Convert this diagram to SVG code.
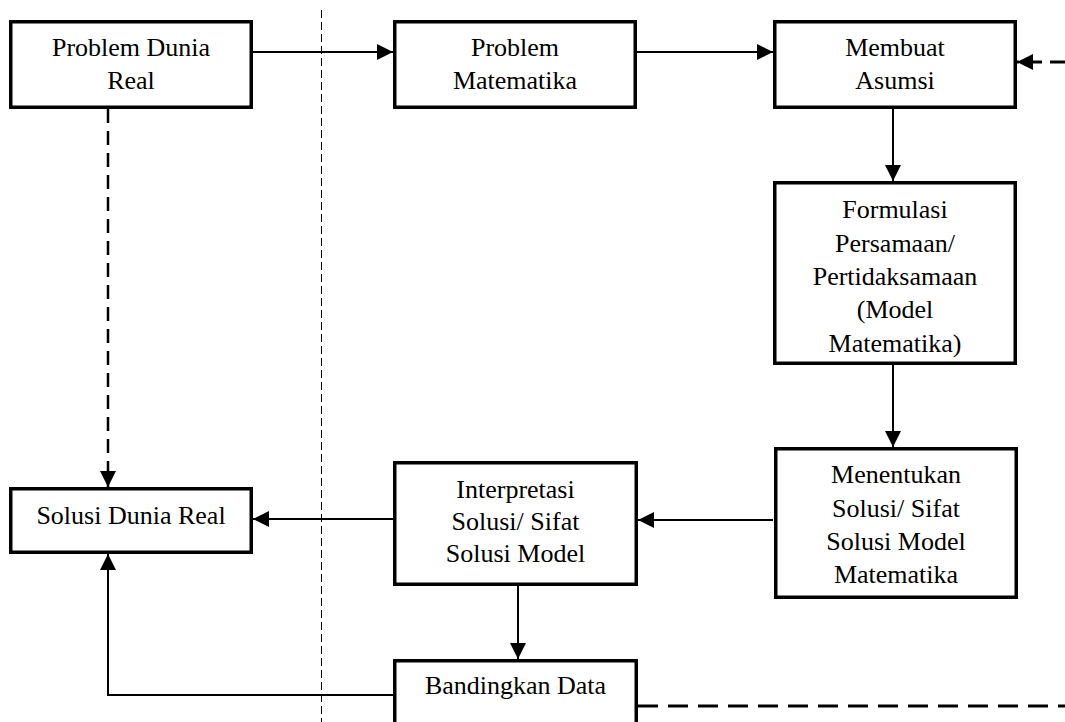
<svg xmlns="http://www.w3.org/2000/svg" width="1065" height="722" viewBox="0 0 1065 722">
<style>
.box{fill:#fff;stroke:#000;stroke-width:3.5}
.t{font-family:"Liberation Serif","Times New Roman",serif;font-size:26px;fill:#000;text-anchor:middle}
.ln{fill:none;stroke:#000;stroke-width:2}
.dsh{fill:none;stroke:#000;stroke-width:2.5;stroke-dasharray:14 8}
.dsh2{fill:none;stroke:#000;stroke-width:3;stroke-dasharray:20 10}
.sep{fill:none;stroke:#000;stroke-width:1;stroke-dasharray:8 4}
</style>
<defs>
<marker id="ah" markerUnits="userSpaceOnUse" markerWidth="16" markerHeight="16" refX="16" refY="8" orient="auto">
<path d="M0,0 L16,8 L0,16 Z" fill="#000"/>
</marker>
</defs>
<rect width="1065" height="722" fill="#fff"/>
<g id="connectors">
<line class="sep" x1="321.5" y1="10" x2="321.5" y2="722"/>
<line class="ln" x1="253" y1="52" x2="393" y2="52" marker-end="url(#ah)"/>
<line class="ln" x1="637" y1="52" x2="773" y2="52" marker-end="url(#ah)"/>
<line class="dsh" x1="1065" y1="62" x2="1017" y2="62" style="stroke-dasharray:15 8;stroke-width:3" marker-end="url(#ah)"/>
<line class="ln" x1="893" y1="92" x2="893" y2="181" marker-end="url(#ah)"/>
<line class="ln" x1="893" y1="365" x2="893" y2="447" marker-end="url(#ah)"/>
<line class="ln" x1="773" y1="520" x2="638" y2="520" marker-end="url(#ah)"/>
<line class="ln" x1="393" y1="519" x2="253" y2="519" marker-end="url(#ah)"/>
<line class="ln" x1="518" y1="586" x2="518" y2="659" marker-end="url(#ah)"/>
<polyline class="ln" points="393,695 108,695 108,554" marker-end="url(#ah)"/>
<line class="dsh" x1="108" y1="109" x2="108" y2="487" marker-end="url(#ah)"/>
<line class="dsh2" x1="638" y1="706" x2="1065" y2="706"/>
</g>
<g id="n1">
<rect class="box" x="10.75" y="21.75" width="240.5" height="85.5"/>
<text class="t" x="131" y="56">Problem Dunia</text>
<text class="t" x="131" y="89">Real</text>
</g>
<g id="n2">
<rect class="box" x="394.75" y="21.75" width="240.5" height="85.5"/>
<text class="t" x="515" y="56">Problem</text>
<text class="t" x="515" y="89">Matematika</text>
</g>
<g id="n3">
<rect class="box" x="774.75" y="21.75" width="240.5" height="85.5"/>
<text class="t" x="895" y="56">Membuat</text>
<text class="t" x="895" y="89">Asumsi</text>
</g>
<g id="n4">
<rect class="box" x="774.75" y="182.75" width="240.5" height="180.5"/>
<text class="t" x="895" y="218">Formulasi</text>
<text class="t" x="895" y="252">Persamaan/</text>
<text class="t" x="895" y="285">Pertidaksamaan</text>
<text class="t" x="895" y="318">(Model</text>
<text class="t" x="895" y="352">Matematika)</text>
</g>
<g id="n5">
<rect class="box" x="775.75" y="448.75" width="240.5" height="148.5"/>
<text class="t" x="896" y="483">Menentukan</text>
<text class="t" x="896" y="517">Solusi/ Sifat</text>
<text class="t" x="896" y="550">Solusi Model</text>
<text class="t" x="896" y="583">Matematika</text>
</g>
<g id="n6">
<rect class="box" x="394.75" y="462.75" width="241.5" height="121.5"/>
<text class="t" x="515.5" y="498">Interpretasi</text>
<text class="t" x="515.5" y="530">Solusi/ Sifat</text>
<text class="t" x="515.5" y="562">Solusi Model</text>
</g>
<g id="n7">
<rect class="box" x="394.75" y="660.75" width="241.5" height="80"/>
<text class="t" x="515.5" y="694">Bandingkan Data</text>
</g>
<g id="n8">
<rect class="box" x="10.75" y="488.75" width="240.5" height="63.5"/>
<text class="t" x="131" y="524">Solusi Dunia Real</text>
</g>
</svg>
